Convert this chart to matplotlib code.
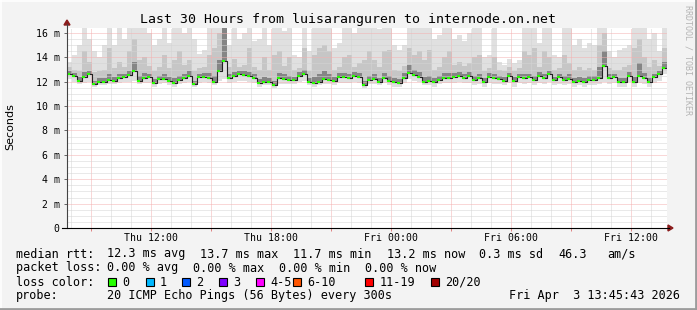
import numpy as np
import matplotlib.pyplot as plt
from matplotlib.patches import Rectangle, Polygon
from matplotlib.lines import Line2D

W, H = 697, 310

title = "Last 30 Hours from luisaranguren to internode.on.net"

# time axis: hours since Thu 00:00, one value every 15 minutes
t_start = 7.815
step_h = 0.25

# median rtt (ms)
median_ms = [
    12.6, 12.45, 12.1, 12.4, 12.6, 11.8, 11.95, 12.0, 12.15, 12.1,
    12.3, 12.35, 12.55, 12.85, 12.1, 12.3, 12.35, 11.9, 12.2, 12.25,
    12.05, 11.9, 12.15, 12.3, 12.45, 11.8, 12.35, 12.4, 12.3, 12.0,
    12.9, 13.7, 12.3, 12.45, 12.6, 12.55, 12.45, 12.3, 11.9, 12.0,
    12.0, 11.75, 12.3, 12.25, 12.15, 12.15, 12.45, 12.6, 12.0, 11.9,
    12.0, 12.2, 12.15, 12.1, 12.4, 12.35, 12.3, 12.45, 12.35, 11.75,
    12.15, 12.25, 12.0, 12.3, 12.1, 12.0, 11.9, 12.3, 12.7, 12.55,
    12.4, 12.0, 12.1, 12.0, 12.15, 12.3, 12.3, 12.35, 12.45, 12.3,
    12.45, 12.15, 12.3, 12.0, 12.35, 12.3, 12.25, 12.1, 12.45, 12.1,
    12.35, 12.3, 12.35, 12.15, 12.45, 12.3, 12.6, 12.15, 12.35, 12.15,
    12.25, 12.0, 12.1, 12.0, 12.15, 12.15, 12.3, 13.25, 12.3, 12.35,
    12.0, 12.0, 12.5, 12.0, 12.45, 12.3, 12.0, 12.35, 12.6, 13.15,
]

# lowest ping in each interval (ms)
ping_min = [
    12.2, 12.0, 11.8, 11.9, 12.0, 11.6, 11.7, 11.7, 11.8, 11.8,
    11.9, 12.0, 12.0, 12.1, 11.8, 11.9, 11.9, 11.6, 11.8, 11.9,
    11.7, 11.6, 11.8, 11.9, 12.0, 11.6, 11.9, 12.0, 11.9, 11.7,
    12.1, 12.2, 11.9, 12.0, 12.1, 12.1, 12.0, 11.9, 11.6, 11.7,
    11.7, 11.5, 11.8, 11.8, 11.8, 11.8, 12.0, 12.1, 11.7, 11.6,
    11.7, 11.8, 11.8, 11.7, 11.9, 11.9, 11.9, 12.0, 11.9, 11.5,
    11.8, 11.8, 11.7, 11.9, 11.7, 11.6, 11.6, 11.9, 12.2, 12.1,
    12.0, 11.7, 11.7, 11.6, 11.8, 11.9, 11.9, 11.9, 12.0, 11.9,
    11.9, 11.7, 11.8, 11.6, 11.9, 11.8, 11.8, 11.7, 11.9, 11.6,
    11.9, 11.8, 11.9, 11.7, 11.9, 11.8, 12.0, 11.7, 11.8, 11.7,
    11.8, 11.6, 11.7, 11.6, 11.7, 11.7, 11.8, 12.0, 11.8, 11.9,
    11.6, 11.6, 12.0, 11.6, 11.9, 11.8, 11.6, 11.9, 12.1, 12.6,
]

# highest ping in each interval (ms), 17 = off the top of the graph
ping_max = [
    13.6, 14.2, 15.0, 17, 15.5, 14.5, 14.0, 15.0, 17, 15.0,
    17, 15.5, 17, 17, 17, 17, 16.0, 15.0, 15.5, 17,
    15.2, 17, 17, 16.0, 17, 15.5, 14.3, 14.6, 17, 17,
    17, 17, 15.0, 17, 15.5, 16.0, 17, 15.3, 15.5, 17,
    15.0, 17, 17, 16.2, 17, 14.2, 14.0, 17, 14.5, 17,
    17, 17, 17, 14.8, 15.2, 17, 17, 16.0, 16.5, 17,
    17, 17, 16.3, 17, 17, 15.0, 14.6, 15.0, 17, 17,
    17, 17, 17, 15.5, 15.8, 17, 17, 15.5, 15.8, 15.3,
    16.0, 17, 17, 14.0, 14.2, 17, 13.6, 13.4, 13.9, 13.5,
    13.8, 17, 17, 17, 15.2, 17, 17, 14.2, 14.0, 17,
    16.5, 15.0, 15.5, 14.8, 15.2, 15.0, 17, 17, 14.5, 14.0,
    14.6, 14.8, 15.0, 17, 17, 17, 15.5, 16.0, 14.5, 17,
]

# upper edge of the denser smoke (ms)
ping_hi = [
    13.2, 13.0, 12.9, 14.5, 13.6, 12.8, 12.9, 13.0, 14.8, 13.1,
    13.6, 13.2, 14.5, 15.5, 13.8, 14.0, 13.3, 12.9, 13.2, 14.2,
    13.1, 13.8, 14.5, 13.4, 13.8, 12.9, 13.1, 13.2, 14.2, 14.8,
    16.0, 17.0, 13.2, 13.9, 13.2, 13.4, 14.8, 13.2, 13.0, 14.0,
    13.0, 14.2, 14.5, 13.3, 14.0, 13.0, 13.1, 14.8, 12.9, 14.2,
    14.8, 15.0, 14.5, 13.0, 13.2, 14.0, 14.2, 13.2, 13.5, 13.8,
    14.5, 13.8, 13.2, 14.5, 14.6, 13.0, 12.9, 13.3, 14.8, 14.2,
    14.5, 13.8, 14.6, 13.0, 13.2, 14.0, 14.5, 13.4, 13.6, 13.3,
    13.5, 14.0, 14.2, 12.9, 13.1, 14.0, 13.0, 12.9, 13.2, 12.9,
    13.1, 14.5, 14.2, 14.8, 13.2, 14.5, 14.0, 13.0, 13.1, 14.2,
    13.5, 13.0, 13.2, 13.0, 13.1, 13.0, 15.0, 16.0, 13.1, 13.0,
    13.0, 13.2, 13.4, 14.8, 15.5, 14.0, 13.2, 13.8, 13.3, 14.8,
]

# upper edge of the dark core of the smoke (ms)
ping_dark = [
    12.9, 12.7, 12.4, 12.8, 12.9, 12.1, 12.3, 12.3, 12.6, 12.4,
    12.6, 12.6, 12.9, 13.6, 12.5, 12.7, 12.6, 12.2, 12.5, 12.6,
    12.4, 12.3, 12.5, 12.6, 12.9, 12.1, 12.6, 12.7, 12.7, 12.5,
    13.8, 16.5, 12.6, 12.8, 12.9, 12.9, 12.8, 12.6, 12.2, 12.4,
    12.3, 12.1, 12.7, 12.6, 12.5, 12.4, 12.8, 13.0, 12.3, 12.4,
    12.6, 12.9, 12.6, 12.4, 12.7, 12.7, 12.6, 12.8, 12.7, 12.1,
    12.5, 12.6, 12.3, 12.7, 12.5, 12.3, 12.2, 12.7, 13.4, 13.0,
    12.8, 12.4, 12.5, 12.3, 12.5, 12.7, 12.7, 12.7, 12.8, 12.6,
    12.8, 12.5, 12.6, 12.3, 12.7, 12.6, 12.5, 12.4, 12.7, 12.4,
    12.6, 12.6, 12.6, 12.5, 12.8, 12.6, 12.9, 12.4, 12.6, 12.5,
    12.6, 12.3, 12.4, 12.3, 12.5, 12.5, 13.2, 14.5, 12.6, 12.6,
    12.3, 12.3, 12.8, 12.4, 13.5, 12.7, 12.3, 12.6, 12.9, 13.6,
]

xtick_hours = [9, 12, 15, 18, 21, 24, 27, 30, 33, 36]
xtick_labels = ["", "Thu 12:00", "", "Thu 18:00", "", "Fri 00:00", "", "Fri 06:00", "", "Fri 12:00"]
ytick_ms = [0, 2, 4, 6, 8, 10, 12, 14, 16]
ytick_labels = ["0", "2 m", "4 m", "6 m", "8 m", "10 m", "12 m", "14 m", "16 m"]

rtt_stats = ["12.3 ms avg", "13.7 ms max", "11.7 ms min", "13.2 ms now", "0.3 ms sd", "46.3", "am/s"]
loss_stats = ["0.00 % avg", "0.00 % max", "0.00 % min", "0.00 % now"]
loss_labels = ["0", "1", "2", "3", "4-5", "6-10", "11-19", "20/20"]
loss_colors = ["#26ff00", "#00b8ff", "#0059ff", "#7e00ff", "#ff00ff", "#ff5500", "#ff0000", "#a10000"]
probe_text = "20 ICMP Echo Pings (56 Bytes) every 300s"
stamp_text = "Fri Apr  3 13:45:43 2026"

plt.rcParams['font.family'] = 'DejaVu Sans Mono'
MONO = 'DejaVu Sans Mono'


def px(x, y):
    return x / W, 1 - y / H


fig = plt.figure(figsize=(W / 100, H / 100), dpi=100, facecolor='#f3f3f3')

ax = fig.add_axes([67 / W, 1 - 228 / H, 600 / W, 200 / H])
ax.set_facecolor('white')
ax.set_xlim(t_start, t_start + 30)
ax.set_ylim(0, 200 / 12.19)

n = len(median_ms)
t = t_start + step_h * np.arange(n + 1)


def ext(a):
    return np.append(a, a[-1])


med = np.array(median_ms)
ax.fill_between(t, ext(ping_min), ext(ping_max), step='post', color='#e0e0e0', lw=0, zorder=1)
ax.fill_between(t, ext(med), ext(ping_hi), step='post', color='#c6c6c6', lw=0, zorder=1.1)
ax.fill_between(t, ext(med), ext(ping_dark), step='post', color='#858585', lw=0, zorder=1.2)

ax.step(t, ext(med), where='post', color='#222222', lw=0.8, zorder=3)
ax.hlines(med, t[:-1], t[:-1] + 0.6 * step_h, color='#26ff00', lw=1.5, zorder=4)

# grid
ax.set_xticks(xtick_hours)
ax.set_xticklabels(xtick_labels)
ax.set_xticks(np.arange(8, 38), minor=True)
ax.set_yticks(ytick_ms)
ax.set_yticklabels(ytick_labels)
ax.set_yticks(np.arange(0, 16.5, 0.5), minor=True)
ax.set_axisbelow(False)
dot = (0, (1, 1))
ax.grid(which='minor', color='#d4d4d4', lw=0.72, linestyle=dot)
ax.grid(which='major', color='#f4b0b0', lw=0.72, linestyle=dot)
for s in ax.spines.values():
    s.set_visible(False)
ax.tick_params(axis='y', which='major', length=2.2, width=0.7, color='#666666', pad=3, labelsize=7.1)
ax.tick_params(axis='x', which='major', length=2.2, width=0.7, color='#e08080', pad=1.5, labelsize=7.1)
ax.tick_params(which='minor', length=0)

# axes lines and arrows
fig.add_artist(Line2D([67 / W, 67 / W], [1 - 228 / H, 1 - 24 / H], color='#444444', lw=0.8))
fig.add_artist(Line2D([62 / W, 669 / W], [1 - 228 / H, 1 - 228 / H], color='black', lw=0.8))
fig.add_artist(Polygon([px(64, 25), px(70, 25), px(67, 20)], closed=True, color='#8b1c1c'))
fig.add_artist(Polygon([px(668, 225), px(668, 231), px(673, 228)], closed=True, color='#8b1c1c'))

# texts
fig.text(*px(347.5, 23.5), title, ha='center', va='baseline', fontsize=9.5, family=MONO)
fig.text(*px(10, 127), "Seconds", rotation=90, ha='center', va='center', fontsize=8, family='DejaVu Sans')
fig.text(*px(688, 5), "RRDTOOL / TOBI OETIKER", rotation=-90, ha='center', va='top', fontsize=6,
         color='#b4b4b4', family=MONO)

fs = 8.5
fig.text(*px(16, 257.5), "median rtt:", fontsize=fs, va='baseline')
for s, x in zip(rtt_stats, [107, 200, 293, 387, 479, 558, 607]):
    fig.text(*px(x, 257.5), s, fontsize=fs, va='baseline')

fig.text(*px(16, 271.5), "packet loss:", fontsize=fs, va='baseline')
for s, x in zip(loss_stats, [107, 193, 279, 365]):
    fig.text(*px(x, 271.5), s, fontsize=fs, va='baseline')

fig.text(*px(16, 285.5), "loss color:", fontsize=fs, va='baseline')
box_x = [108, 145.5, 182, 219, 256, 293, 365, 431]
for lab, col, bx in zip(loss_labels, loss_colors, box_x):
    x0, y0 = px(bx, 286)
    fig.add_artist(Rectangle((x0, y0), 8 / W, 8 / H, transform=fig.transFigure,
                             facecolor=col, edgecolor='black', lw=0.8))
    fig.text(*px(bx + 14.5, 285.5), lab, fontsize=fs, va='baseline')

fig.text(*px(16, 299.5), "probe:", fontsize=fs, va='baseline')
fig.text(*px(107, 299.5), probe_text, fontsize=fs, va='baseline')
fig.text(*px(680, 299.5), stamp_text, fontsize=fs, va='baseline', ha='right')

# frame
fig.add_artist(Line2D([1 / W, 1 / W], [0, 1], color='white', lw=1.2))
fig.add_artist(Line2D([0, 1], [1 - 1 / H, 1 - 1 / H], color='white', lw=1.2))
fig.add_artist(Line2D([1 - 1 / W, 1 - 1 / W], [0, 1], color='#9c9c9c', lw=2))
fig.add_artist(Line2D([0, 1], [1 / H, 1 / H], color='#9c9c9c', lw=2))

fig.savefig('out.png', dpi=100, facecolor=fig.get_facecolor())
